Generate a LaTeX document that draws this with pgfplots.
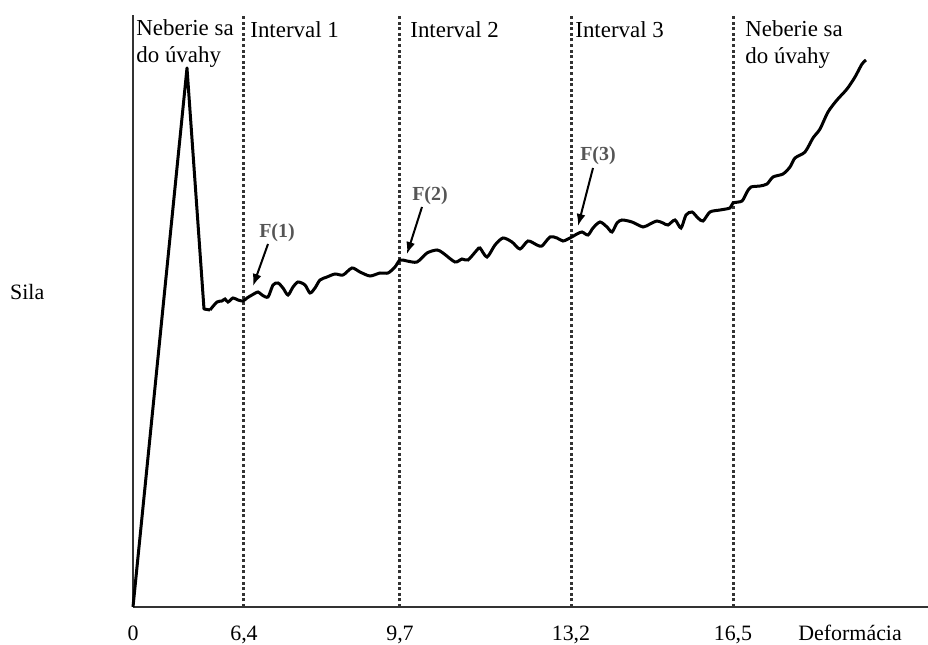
\documentclass[border=0pt]{standalone}
\usepackage{fontspec}
\setmainfont{Liberation Serif}
\usepackage{pgfplots}
\pgfplotsset{compat=1.18}
\usetikzlibrary{arrows.meta}

\definecolor{axisgray}{HTML}{333333}
\definecolor{fgray}{HTML}{555555}

\begin{document}
\begin{tikzpicture}
\begin{axis}[
    x=0.5bp, y=0.5bp,
    xmin=133, xmax=928,
    ymin=38, ymax=630,
    axis lines=left,
    axis line style={-, line width=1.4bp, axisgray},
    xtick={133,244,400,571,733},
    xticklabels={0,{6,4},{9,7},{13,2},{16,5}},
    ytick=\empty,
    major tick length=0pt,
    xticklabel style={anchor=base, yshift=-17bp, font=\fontsize{11}{13}\selectfont},
    /pgf/number format/assume math mode=true,
    xlabel={Deformácia},
    xlabel style={at={(axis description cs:0.902,0)}, anchor=base, yshift=-17bp, font=\fontsize{11}{13}\selectfont},
    ylabel={Sila},
    ylabel style={at={(axis description cs:-0.133,0.52)}, anchor=base, rotate=-90, font=\fontsize{11}{13}\selectfont},
    clip=false,
  ]

  % vertical interval boundaries
  \addplot[axisgray, line width=1.5bp, dash pattern=on 1.5bp off 1.3bp] coordinates {(244,38) (244,630)};
  \addplot[axisgray, line width=1.5bp, dash pattern=on 1.5bp off 1.3bp] coordinates {(400,38) (400,630)};
  \addplot[axisgray, line width=1.5bp, dash pattern=on 1.5bp off 1.3bp] coordinates {(571,38) (571,630)};
  \addplot[axisgray, line width=1.5bp, dash pattern=on 1.5bp off 1.3bp] coordinates {(733,38) (733,630)};

  % force curve: rise, peak, drop
  \addplot[black, line width=1.5bp, line join=round] coordinates {
    (133,38) (187,577) (204,336) (210,335)
  };
  % force curve: wavy part
  \addplot[black, line width=1.5bp, smooth, tension=0.45] coordinates {
    (210,335) (217,343) (222,344) (225,346) (228,343) (233,347) (238,345)
    (243,344) (247,347) (252,350) (258,353) (262,350) (268,348) (273,360)
    (278,362) (283,357) (288,350) (293,358) (298,363) (305,360) (310,352)
    (315,357) (320,365) (327,368) (335,371) (343,370) (352,377) (360,373)
    (370,369) (380,372) (388,372) (395,378) (400,385) (407,384) (417,383)
    (427,392) (437,395) (443,392) (455,383) (462,386) (468,385) (477,395)
    (480,397) (487,388) (495,400) (503,407) (512,403) (520,396) (528,404)
    (537,400) (542,399) (550,408) (557,407) (563,404) (570,407) (577,411)
    (582,413) (588,410) (593,417) (600,423) (607,418) (612,413) (617,422)
    (622,425) (632,423) (643,418) (650,421) (657,424) (663,422) (668,420)
    (675,425) (681,417) (686,430) (692,433) (698,427) (703,424) (710,433)
    (720,435) (730,437) (733,442) (742,444) (747,453) (751,458) (760,459)
    (767,461) (773,468) (783,471) (790,478) (795,487) (805,493) (813,507)
    (820,516) (828,533) (837,545) (847,556) (855,568) (862,581) (866,585)
  };

  % region labels
  \begin{scope}[every node/.style={font=\fontsize{11.5}{13}\selectfont, anchor=base west, inner sep=0pt}]
    \node at (axis cs:136,609) {Neberie sa};
    \node at (axis cs:136,582) {do úvahy};
    \node at (axis cs:250,607) {Interval 1};
    \node at (axis cs:410,607) {Interval 2};
    \node at (axis cs:575,607) {Interval 3};
    \node at (axis cs:745,608) {Neberie sa};
    \node at (axis cs:745,581) {do úvahy};
  \end{scope}

  % F markers
  \begin{scope}[every node/.style={font=\bfseries\fontsize{10}{12}\selectfont, text=fgray, inner sep=0pt}]
    \node at (axis cs:277,412) {F(1)};
    \node at (axis cs:430,449) {F(2)};
    \node at (axis cs:598,489) {F(3)};
  \end{scope}
  \draw[line width=1bp, -{Latex[length=6bp,width=4.5bp]}] (axis cs:268,401) -- (axis cs:253,359);
  \draw[line width=1bp, -{Latex[length=6bp,width=4.5bp]}] (axis cs:422,438) -- (axis cs:407,391);
  \draw[line width=1bp, -{Latex[length=6bp,width=4.5bp]}] (axis cs:593,477) -- (axis cs:578,419);

  \coordinate (bl) at (axis cs:0,0);
  \coordinate (tr) at (axis cs:928,645);
\end{axis}
\pgfresetboundingbox
\path[use as bounding box] (bl) rectangle (tr);
\end{tikzpicture}
\end{document}
